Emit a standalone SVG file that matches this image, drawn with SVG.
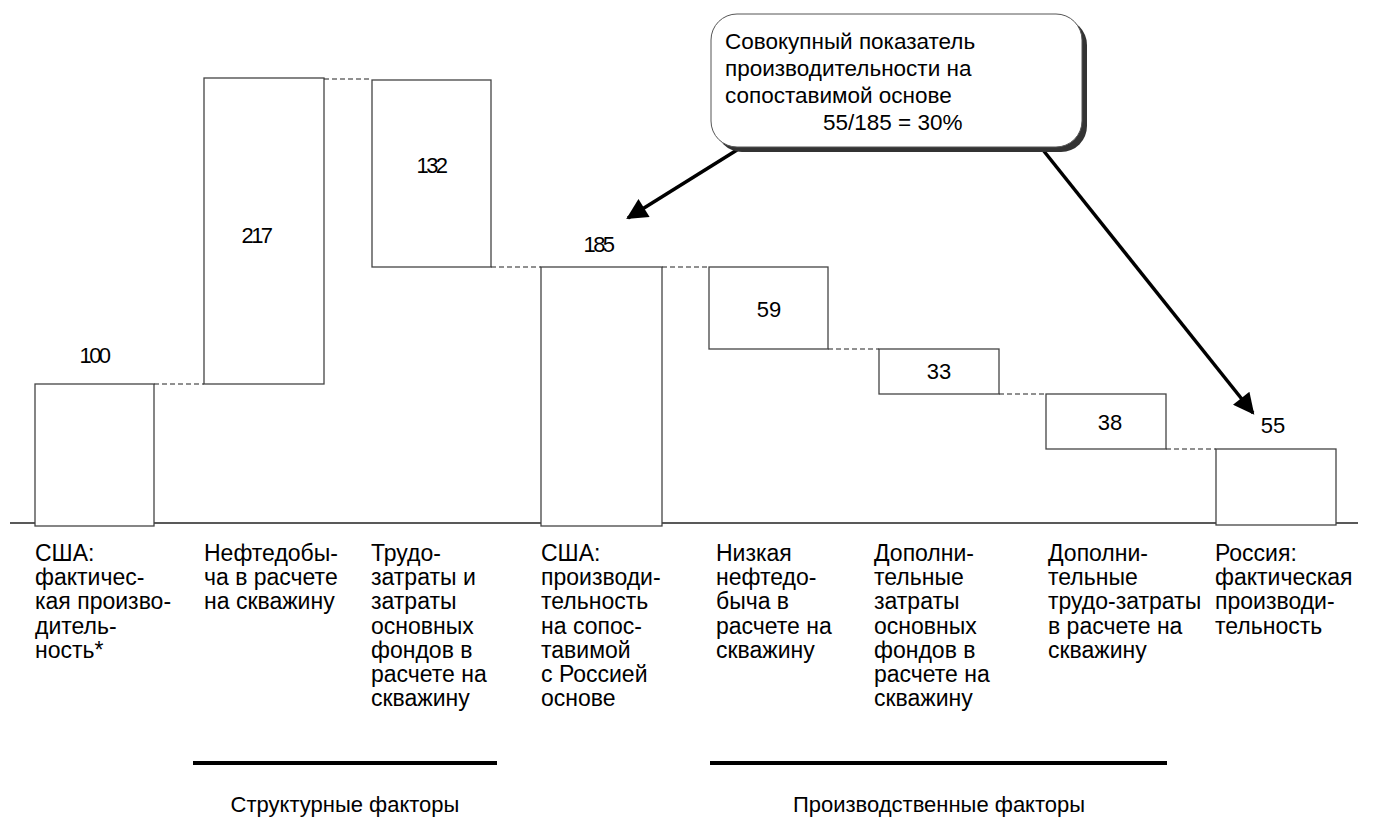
<svg xmlns="http://www.w3.org/2000/svg" width="1374" height="823" viewBox="0 0 1374 823">
<style>
.bar{fill:#fff;stroke:#444;stroke-width:1.3}
.dash{stroke:#222;stroke-width:1.2;stroke-dasharray:5,3;fill:none}
.num{font-family:"Liberation Sans",Arial,sans-serif;font-size:22px;fill:#000;text-anchor:middle}
.cnum{font-family:"Liberation Sans",Arial,sans-serif;font-size:22px;fill:#000;text-anchor:middle;letter-spacing:-2.5px}
.lbl{font-family:"Liberation Sans",Arial,sans-serif;font-size:23px;fill:#000}
.call{font-family:"Liberation Sans",Arial,sans-serif;font-size:22.5px;fill:#000}
.grp{font-family:"Liberation Sans",Arial,sans-serif;font-size:22px;fill:#000;text-anchor:middle}
.arr{stroke:#000;stroke-width:3.5;fill:none}
</style>
<defs>
<marker id="ah" viewBox="0 0 10 10" refX="9" refY="5" markerWidth="6.5" markerHeight="6" markerUnits="strokeWidth" orient="auto">
<path d="M0,0 L10,5 L0,10 z" fill="#000"/>
</marker>
</defs>
<line x1="10" y1="523" x2="1358" y2="523" stroke="#222" stroke-width="1.3"/>
<g id="bar1"><rect class="bar" x="35" y="384" width="119" height="142"/><text class="cnum" x="94" y="363">100</text></g>
<g id="bar2"><rect class="bar" x="204" y="78" width="120" height="306"/><text class="cnum" x="256" y="243">217</text></g>
<g id="bar3"><rect class="bar" x="372" y="80" width="119" height="187"/><text class="cnum" x="431" y="173">132</text></g>
<g id="bar4"><rect class="bar" x="541" y="267" width="121" height="259"/><text class="cnum" x="598" y="252">185</text></g>
<g id="bar5"><rect class="bar" x="709" y="267" width="119" height="82"/><text class="num" x="769" y="317">59</text></g>
<g id="bar6"><rect class="bar" x="879" y="349" width="120" height="45"/><text class="num" x="939" y="379">33</text></g>
<g id="bar7"><rect class="bar" x="1046" y="394" width="120" height="55"/><text class="num" x="1110" y="430">38</text></g>
<g id="bar8"><rect class="bar" x="1216" y="449" width="120" height="76"/><text class="num" x="1273" y="433">55</text></g>
<g id="connectors">
<line class="dash" x1="154" y1="384" x2="204" y2="384"/>
<line class="dash" x1="324" y1="79" x2="372" y2="79"/>
<line class="dash" x1="491" y1="267" x2="541" y2="267"/>
<line class="dash" x1="662" y1="267" x2="709" y2="267"/>
<line class="dash" x1="828" y1="349" x2="879" y2="349"/>
<line class="dash" x1="999" y1="394" x2="1046" y2="394"/>
<line class="dash" x1="1166" y1="449" x2="1216" y2="449"/>
<line class="arr" x1="737" y1="150" x2="628" y2="218" marker-end="url(#ah)"/>
<line class="arr" x1="1043" y1="150" x2="1253" y2="413" marker-end="url(#ah)"/>
</g>
<g id="callout">
<rect x="716" y="19" width="371" height="133" rx="26" fill="#333"/>
<rect x="711" y="14" width="371" height="133" rx="26" fill="#fff" stroke="#555" stroke-width="1"/>
<text class="call" x="725" y="49">Совокупный показатель</text>
<text class="call" x="725" y="76">производительности на</text>
<text class="call" x="725" y="103">сопоставимой основе</text>
<text class="call" x="823" y="130">55/185 = 30%</text>
</g>
<g id="labels">
<text class="lbl" x="35" y="561"><tspan x="35">США:</tspan><tspan x="35" dy="24.2">фактичес-</tspan><tspan x="35" dy="24.2">кая произво-</tspan><tspan x="35" dy="24.2">дитель-</tspan><tspan x="35" dy="24.2">ность*</tspan></text>
<text class="lbl" x="204" y="561"><tspan x="204">Нефтедобы-</tspan><tspan x="204" dy="24.2">ча в расчете</tspan><tspan x="204" dy="24.2">на скважину</tspan></text>
<text class="lbl" x="371" y="561"><tspan x="371">Трудо-</tspan><tspan x="371" dy="24.2">затраты и</tspan><tspan x="371" dy="24.2">затраты</tspan><tspan x="371" dy="24.2">основных</tspan><tspan x="371" dy="24.2">фондов в</tspan><tspan x="371" dy="24.2">расчете на</tspan><tspan x="371" dy="24.2">скважину</tspan></text>
<text class="lbl" x="541" y="561"><tspan x="541">США:</tspan><tspan x="541" dy="24.2">производи-</tspan><tspan x="541" dy="24.2">тельность</tspan><tspan x="541" dy="24.2">на сопос-</tspan><tspan x="541" dy="24.2">тавимой</tspan><tspan x="541" dy="24.2">с Россией</tspan><tspan x="541" dy="24.2">основе</tspan></text>
<text class="lbl" x="716" y="561"><tspan x="716">Низкая</tspan><tspan x="716" dy="24.2">нефтедо-</tspan><tspan x="716" dy="24.2">быча в</tspan><tspan x="716" dy="24.2">расчете на</tspan><tspan x="716" dy="24.2">скважину</tspan></text>
<text class="lbl" x="874" y="561"><tspan x="874">Дополни-</tspan><tspan x="874" dy="24.2">тельные</tspan><tspan x="874" dy="24.2">затраты</tspan><tspan x="874" dy="24.2">основных</tspan><tspan x="874" dy="24.2">фондов в</tspan><tspan x="874" dy="24.2">расчете на</tspan><tspan x="874" dy="24.2">скважину</tspan></text>
<text class="lbl" x="1048" y="561"><tspan x="1048">Дополни-</tspan><tspan x="1048" dy="24.2">тельные</tspan><tspan x="1048" dy="24.2">трудо-затраты</tspan><tspan x="1048" dy="24.2">в расчете на</tspan><tspan x="1048" dy="24.2">скважину</tspan></text>
<text class="lbl" x="1215" y="561"><tspan x="1215">Россия:</tspan><tspan x="1215" dy="24.2">фактическая</tspan><tspan x="1215" dy="24.2">производи-</tspan><tspan x="1215" dy="24.2">тельность</tspan></text>
</g>
<g id="groups">
<line x1="193" y1="763" x2="497" y2="763" stroke="#000" stroke-width="4"/>
<text class="grp" x="345" y="812">Структурные факторы</text>
<line x1="710" y1="763" x2="1167" y2="763" stroke="#000" stroke-width="4"/>
<text class="grp" x="939" y="812">Производственные факторы</text>
</g>
</svg>
